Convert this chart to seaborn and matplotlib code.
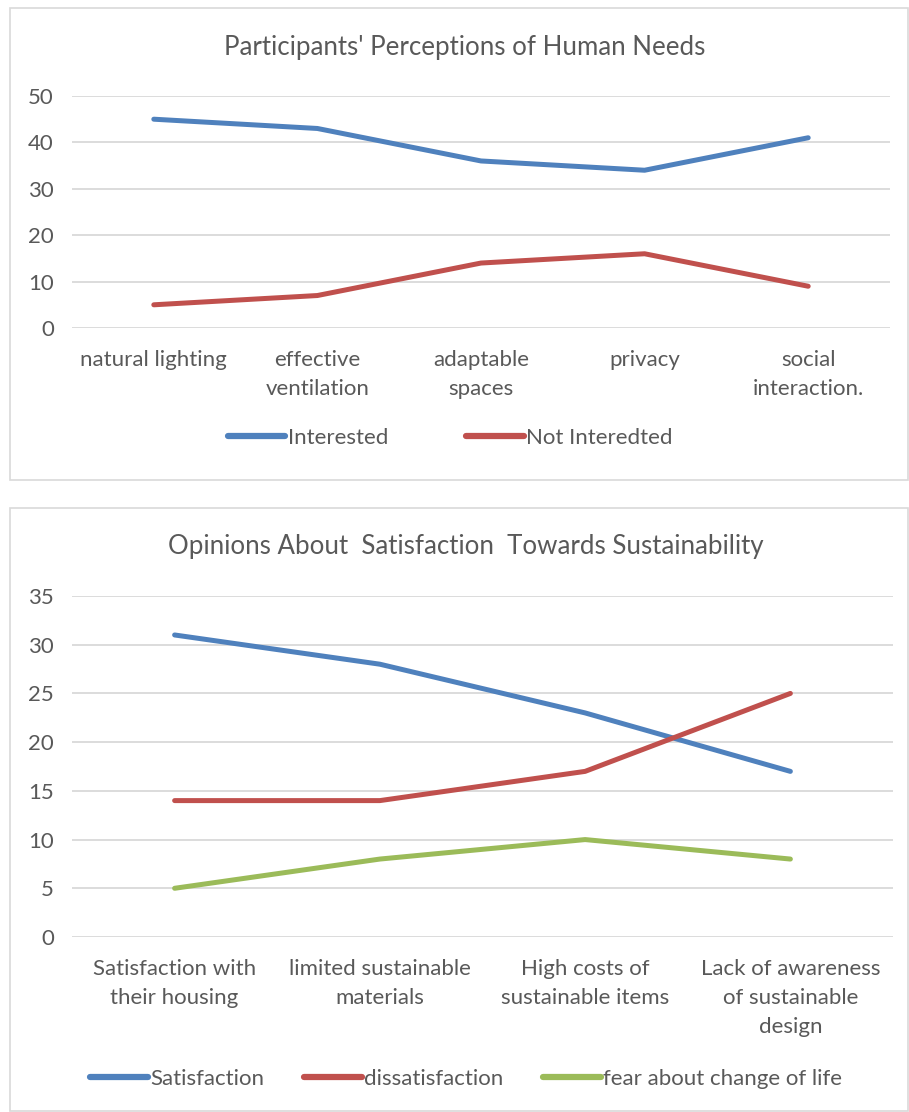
import pandas as pd
import seaborn as sns
import matplotlib.pyplot as plt
from matplotlib.patches import Rectangle

# chart 1 data
needs_cats = ['natural lighting', 'effective\nventilation', 'adaptable\nspaces', 'privacy', 'social\ninteraction.']
interested = [45, 43, 36, 34, 41]
not_interested = [5, 7, 14, 16, 9]

# chart 2 data
sust_cats = ['Satisfaction with\ntheir housing', 'limited sustainable\nmaterials',
             'High costs of\nsustainable items', 'Lack of awareness\nof sustainable\ndesign']
satisfaction = [31, 28, 23, 17]
dissatisfaction = [14, 14, 17, 25]
fear = [5, 8, 10, 8]

BLUE, RED, GREEN = '#4F81BD', '#C0504D', '#9BBB59'
TXT = '#595959'
GRID = '#D9D9D9'

sns.set_style('white')
plt.rcParams['font.family'] = ['Lato', 'DejaVu Sans']

W, H = 909, 1112
fig = plt.figure(figsize=(W / 100, H / 100), dpi=100)


def px_axes(l, t, r, b):
    return fig.add_axes([l / W, 1 - b / H, (r - l) / W, (b - t) / H])


def draw_chart(ax, cats, series, colors, ymax, ystep, title, title_y, legend_x, legend_y, legend_gap):
    rows = []
    for name, vals in series.items():
        for c, v in zip(cats, vals):
            rows.append({'cat': c, 'value': v, 'series': name})
    df = pd.DataFrame(rows)
    sns.lineplot(data=df, x='cat', y='value', hue='series', palette=colors,
                 linewidth=3.6, ax=ax, sort=False, legend=False,
                 solid_capstyle='round', solid_joinstyle='round')
    ax.set_xlim(-0.5, len(cats) - 0.5)
    ax.set_ylim(0, ymax)
    ax.set_yticks(range(0, ymax + 1, ystep))
    ax.grid(axis='y', color=GRID, linewidth=1.3)
    ax.set_axisbelow(True)
    for s in ax.spines.values():
        s.set_visible(False)
    ax.tick_params(length=0, labelsize=16, colors=TXT, pad=16)
    ax.tick_params(axis='y', pad=13)
    ax.set_xlabel('')
    ax.set_ylabel('')
    for lab in ax.get_xticklabels():
        lab.set_linespacing(1.55)
        lab.set_verticalalignment('top')
    fig.text(0.5 * (ax.get_position().x0 + ax.get_position().x1) - 0.018, 1 - title_y / H, title,
             ha='center', va='center', fontsize=18.6, color=TXT)
    handles = [plt.Line2D([], [], color=c, linewidth=4.5, solid_capstyle='round') for c in colors.values()]
    fig.legend(handles, list(series.keys()), loc='center',
               bbox_to_anchor=(legend_x / W, 1 - legend_y / H),
               ncol=len(series), frameon=False, fontsize=16, labelcolor=TXT,
               handlelength=2.6, handletextpad=0.1, columnspacing=legend_gap)


# frames around the two charts
fig.patches.append(Rectangle((10 / W, 1 - 480 / H), 898 / W, 472 / H, transform=fig.transFigure,
                             fill=False, edgecolor='#D9D9D9', linewidth=1.2))
fig.patches.append(Rectangle((10 / W, 1 - 1111 / H), 898 / W, 603 / H, transform=fig.transFigure,
                             fill=False, edgecolor='#D9D9D9', linewidth=1.2))

ax1 = px_axes(72, 96, 890, 328)
draw_chart(ax1, needs_cats, {'Interested': interested, 'Not Interedted': not_interested},
           {'Interested': BLUE, 'Not Interedted': RED}, 50, 10,
           "Participants' Perceptions of Human Needs", 47, 450, 438, 3.5)

ax2 = px_axes(72, 596, 893, 937)
draw_chart(ax2, sust_cats, {'Satisfaction': satisfaction, 'dissatisfaction': dissatisfaction,
                            'fear about change of life': fear},
           {'Satisfaction': BLUE, 'dissatisfaction': RED, 'fear about change of life': GREEN}, 35, 5,
           'Opinions About  Satisfaction  Towards Sustainability', 547, 466, 1079, 1.8)

fig.savefig('out.png', dpi=100)
